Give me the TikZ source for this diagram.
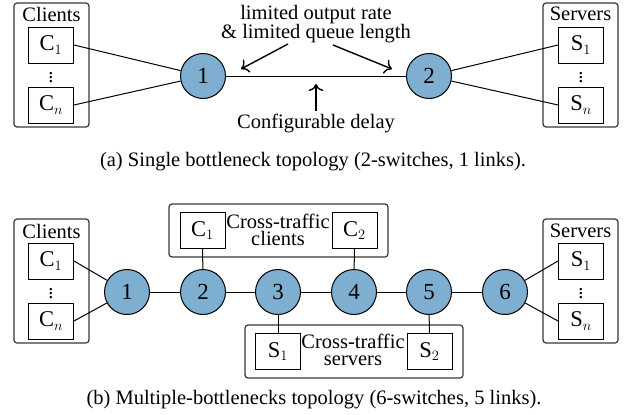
\documentclass[tikz,border=0pt]{standalone}
\usepackage{amsmath}
\usepackage{fontspec}
\setmainfont{Liberation Serif}
\usepackage{tikz}
\usepackage{color}
\usetikzlibrary{arrows.meta}

\definecolor{swblue}{RGB}{126,174,208}
\definecolor{grpgray}{RGB}{55,55,55}

\begin{document}
\begin{tikzpicture}[x=1pt,y=1pt,yscale=-1,xscale=1,
  every node/.style={font=\fontsize{20.5}{17}\selectfont,inner sep=0.75pt},
  switch/.style={circle,draw,fill=swblue,line width=1,minimum size=45,inner sep=0pt,font=\fontsize{23}{23}\selectfont},
  host/.style={draw,line width=1,minimum width=45,minimum height=36,inner sep=0pt,font=\fontsize{22.5}{22}\selectfont},
  group/.style={draw=grpgray,rounded corners=3,line width=1.2,inner sep=0pt},
  link/.style={line width=1},
  note/.style={-{To[scale=1.5]},line width=1.4}]
\useasboundingbox (0,0) rectangle (627,415);

%%%%% (a) single bottleneck

%Shape: Clients group
\node [group,minimum width=75,minimum height=124] (aclients) at (51.5,65) {};
% Text Node
\node (aclientslab) at (51.5,14) {Clients};
\node [host] (ac1) at (51,45) {$\mathrm{C}_1$};
\node [inner sep=0pt] (acdots) at (51,75) {$\vdots$};
\node [host] (acn) at (51,105) {$\mathrm{C}_n$};

%Shape: Servers group
\node [group,minimum width=75,minimum height=124] (aservers) at (580.5,65) {};
% Text Node
\node (aserverslab) at (580.5,14) {Servers};
\node [host] (as1) at (581,45) {$\mathrm{S}_1$};
\node [inner sep=0pt] (asdots) at (581,75) {$\vdots$};
\node [host] (asn) at (581,105) {$\mathrm{S}_n$};

%Shape: switches
\node [switch] (a1) at (203,76) {1};
\node [switch] (a2) at (429,76) {2};

\draw [link] (ac1.east) -- (a1);
\draw [link] (acn.east) -- (a1);
\draw [link] (a1) -- (a2);
\draw [link] (a2) -- (as1.west);
\draw [link] (a2) -- (asn.west);

% Text Node
\node [align=center] (alimit) at (316,24) {limited output rate\\\& limited queue length};
\coordinate (alimitl) at (288,44);
\coordinate (alimitr) at (333,45);
\coordinate (aheadl) at (241,69);
\coordinate (aheadr) at (392,69);
\draw [note] (alimitl) -- (aheadl);
\draw [note] (alimitr) -- (aheadr);

% Text Node
\node (adelay) at (316,123) {Configurable delay};
\coordinate (aheadd) at (316,84);
\draw [note] ([yshift=-2]adelay.north) -- (aheadd);

% Text Node
\node (acap) at (313,162) {(a) Single bottleneck topology (2-switches, 1 links).};

%%%%% (b) multiple bottlenecks

%Shape: groups
\node [group,minimum width=75,minimum height=124] (bclients) at (51.5,281) {};
\node [group,minimum width=75,minimum height=124] (bservers) at (580.5,281) {};
\node [group,minimum width=219,minimum height=53] (bxclients) at (278.5,230.5) {};
\node [group,minimum width=218,minimum height=53] (bxservers) at (354,351.5) {};

% Text Node
\node (bclientslab) at (51.5,231) {Clients};
\node [host] (bc1) at (51,261) {$\mathrm{C}_1$};
\node [inner sep=0pt] (bcdots) at (51,291) {$\vdots$};
\node [host] (bcn) at (51,321) {$\mathrm{C}_n$};

% Text Node
\node (bserverslab) at (580.5,231) {Servers};
\node [host] (bs1) at (581,261) {$\mathrm{S}_1$};
\node [inner sep=0pt] (bsdots) at (581,291) {$\vdots$};
\node [host] (bsn) at (581,321) {$\mathrm{S}_n$};

% Text Node
\node [align=center,inner sep=0pt] (bxclientslab) at (278,230) {Cross-traffic\\clients};
\node [host] (bxc1) at (202.5,230.5) {$\mathrm{C}_1$};
\node [host] (bxc2) at (354.5,230.5) {$\mathrm{C}_2$};

% Text Node
\node [align=center,inner sep=0pt] (bxserverslab) at (353,350) {Cross-traffic\\servers};
\node [host] (bxs1) at (278,351.5) {$\mathrm{S}_1$};
\node [host] (bxs2) at (429.5,351.5) {$\mathrm{S}_2$};

%Shape: switches
\foreach \i/\x in {1/127,2/203,3/278,4/354,5/429,6/505}
  \node [switch] (b\i) at (\x,292) {\i};

\foreach \i/\j in {1/2,2/3,3/4,4/5,5/6}
  \draw [link] (b\i) -- (b\j);

\draw [link] (bc1.east) -- (b1);
\draw [link] (bcn.east) -- (b1);
\draw [link] (b6) -- (bs1.west);
\draw [link] (b6) -- (bsn.west);
\draw [link] (bxc1) -- (b2);
\draw [link] (bxc2) -- (b4);
\draw [link] (bxs1) -- (b3);
\draw [link] (bxs2) -- (b5);

% Text Node
\node (bcap) at (314,400) {(b) Multiple-bottlenecks topology (6-switches, 5 links).};

\end{tikzpicture}
\end{document}
